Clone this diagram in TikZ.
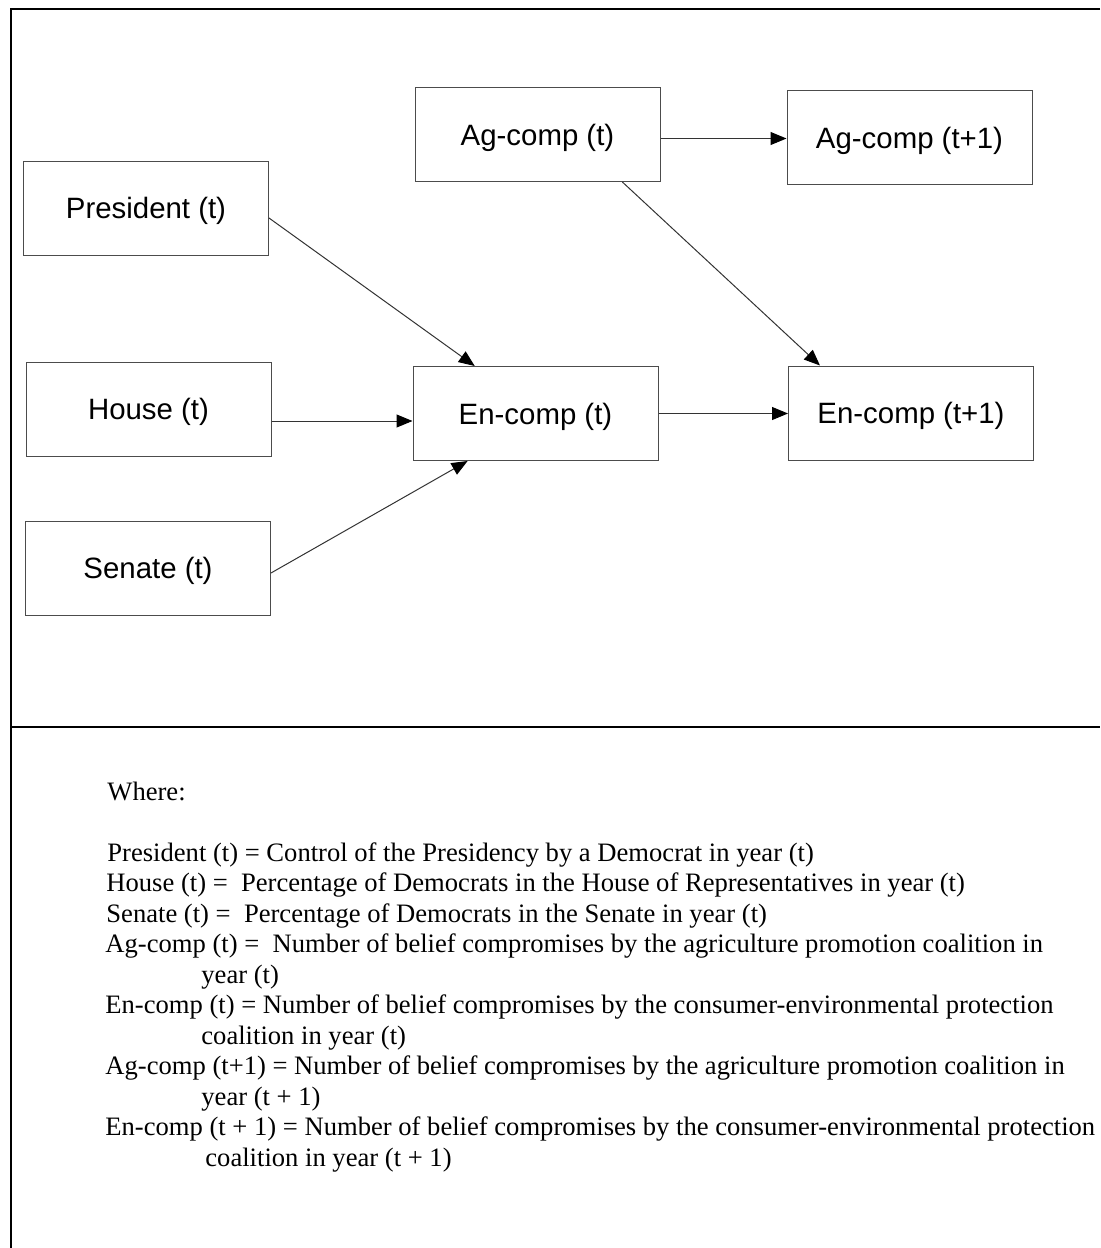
\documentclass[tikz,border=0pt]{standalone}
\usepackage{fontspec}
\setmainfont{Liberation Serif}
\newfontfamily\boxfont{Liberation Sans}
\usetikzlibrary{arrows.meta,calc}

\tikzset{
  frameline/.style={line width=1pt, black},
  varbox/.style={draw=black!70, line width=0.5pt, minimum width=122.5pt,
    minimum height=47pt, inner sep=0pt, text height=10.5pt, text depth=0pt,
    font=\boxfont\fontsize{14.7pt}{17pt}\selectfont},
  conn/.style={draw=black!80, line width=0.5pt,
    -{Triangle[length=8pt,width=6.5pt,color=black]}},
  defline/.style={anchor=base west, inner sep=0pt,
    font=\fontsize{13.3pt}{15pt}\selectfont}
}

\begin{document}
\begin{tikzpicture}[x=0.5pt, y=-0.5pt]
  \useasboundingbox (0,0) rectangle (1100,1248);

  % outer frame and divider
  \coordinate (ftl) at (11,9);
  \coordinate (ftr) at (1100,9);
  \coordinate (fbl) at (11,1248);
  \coordinate (dl) at (11,727);
  \coordinate (dr) at (1100,727);
  \draw[frameline] (ftr) -- (ftl) -- (fbl);
  \draw[frameline] (dl) -- (dr);

  % variable boxes
  \node[varbox] (pres)   at (146,208)   {President (t)};
  \node[varbox] (house)  at (148.5,409) {House (t)};
  \node[varbox] (senate) at (148,568)   {Senate (t)};
  \node[varbox] (agt)    at (537.5,134.5) {Ag-comp (t)};
  \node[varbox] (agt1)   at (909.5,137.5) {Ag-comp (t+1)};
  \node[varbox] (ent)    at (535.5,413.5) {En-comp (t)};
  \node[varbox] (ent1)   at (911,413)   {En-comp (t+1)};

  % connectors
  \coordinate (agout) at ([yshift=-2pt]agt.east);
  \draw[conn] (agout) -- (agout -| agt1.west);
  \draw[conn] ($(agt.south west)!0.845!(agt.south east)$) --
              ($(ent1.north west)!0.13!(ent1.north east)$);
  \draw[conn] ([yshift=-5pt]pres.east) --
              ($(ent.north west)!0.253!(ent.north east)$);
  \coordinate (hout) at ([yshift=-6pt]house.east);
  \draw[conn] (hout) -- (hout -| ent.west);
  \draw[conn] ([yshift=-2.5pt]senate.east) --
              ($(ent.south west)!0.224!(ent.south east)$);
  \draw[conn] (ent.east) -- (ent.east -| ent1.west);

  % definitions
  \node[defline] (where) at (107,800) {Where:};
  \node[defline] (d1) at (107,861) {President (t) = Control of the Presidency by a Democrat in year (t)};
  \node[defline] (d2) at (106,891.5) {House (t) = \ Percentage of Democrats in the House of Representatives in year (t)};
  \node[defline] (d3) at (106,922) {Senate (t) = \ Percentage of Democrats in the Senate in year (t)};
  \node[defline] (d4) at (105,952.5) {Ag-comp (t) = \ Number of belief compromises by the agriculture promotion coalition in};
  \node[defline] (d4b) at (201,983) {year (t)};
  \node[defline] (d5) at (105,1013.5) {En-comp (t) = Number of belief compromises by the consumer-environmental protection};
  \node[defline] (d5b) at (201,1044) {coalition in year (t)};
  \node[defline] (d6) at (105,1074.5) {Ag-comp (t+1) = Number of belief compromises by the agriculture promotion coalition in};
  \node[defline] (d6b) at (201,1105) {year (t + 1)};
  \node[defline] (d7) at (105,1135.5) {En-comp (t + 1) = Number of belief compromises by the consumer-environmental protection};
  \node[defline] (d7b) at (205,1166) {coalition in year (t + 1)};
\end{tikzpicture}
\end{document}
